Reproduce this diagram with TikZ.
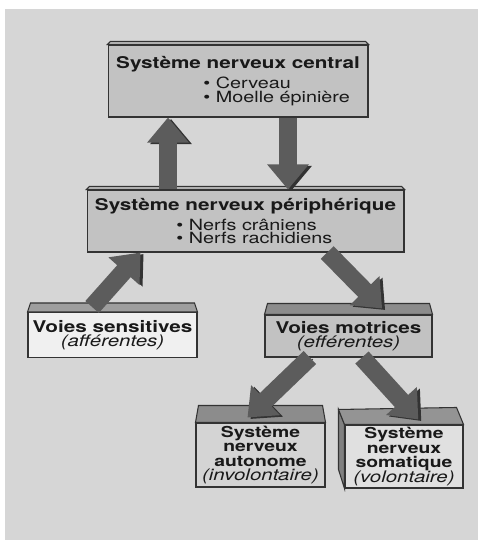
\documentclass[tikz,border=0pt]{standalone}
\usepackage{fontspec}
\setmainfont{TeX Gyre Heros}[FakeStretch=1.28]
\usetikzlibrary{arrows.meta,calc}
\definecolor{bgcol}{gray}{0.84}
\definecolor{boxgray}{gray}{0.76}
\definecolor{boxlight}{gray}{0.94}
\definecolor{topgray}{gray}{0.55}
\definecolor{arrowgray}{gray}{0.36}
\definecolor{arrowdark}{gray}{0.2}
\newcommand{\topface}[3]{%
  \filldraw[fill=#3, draw=black!80, line width=0.6pt] (#1.north west) -- ++(3,-#2) -- ($(#1.north east)+(-3,-#2)$) -- (#1.north east) -- cycle;}
\newcommand{\btxt}{\fontsize{9.2}{8.3}\selectfont\bfseries}
\newcommand{\bsmall}{\fontsize{8.6}{8.3}\selectfont\bfseries}
\newcommand{\itxt}{\fontsize{9.1}{8.3}\selectfont\mdseries\itshape}
\newcommand{\puces}[2]{\vtop{\fontsize{8.8}{7.7}\selectfont\mdseries\lineskiplimit=-10pt\hbox{• #1}\hbox{• #2}}}
\begin{document}
\begin{tikzpicture}[x=0.02cm, y=-0.02cm,
  box/.style={rectangle, draw=black!80, line width=0.6pt, inner sep=0pt, align=center, text=black!90,
    font={\fontsize{9}{8.3}\selectfont\lineskiplimit=-10pt}},
  bigarrow/.style={draw=arrowgray, line width=0.36cm, -{Triangle[width=0.8cm,length=0.5cm]},
    preaction={draw=arrowdark, transform canvas={shift={(0.06cm,-0.03cm)}}}},
]
    \useasboundingbox (0,0) rectangle (478,540);
    \fill[bgcol] (5,9) rectangle (478,540);

    % Nodes
    \node (central) [box, fill=boxgray, minimum width=5.2cm, minimum height=1.44cm] at (238,81)
      {\btxt Système nerveux central\\[3pt]
       \hspace*{44pt}\puces{Cerveau}{Moelle épinière}};
    \node (periph) [box, fill=boxgray, minimum width=6.34cm, minimum height=1.24cm] at (245.5,221)
      {\btxt Système nerveux périphérique\\[3pt]
       \hspace*{10pt}\puces{Nerfs crâniens}{Nerfs rachidiens}};
    \node (sens) [box, fill=boxlight, minimum width=3.38cm, minimum height=0.9cm] at (112.5,335)
      {\btxt Voies sensitives\\ \itxt (afférentes)};
    \node (motr) [box, fill=boxgray, minimum width=3.34cm, minimum height=0.84cm] at (348.5,336)
      {\btxt Voies motrices\\ \itxt (efférentes)};
    \node (auton) [box, fill=black!17, minimum width=2.58cm, minimum height=1.28cm] at (260.5,455)
      {\bsmall Système\\ \bsmall nerveux\\ \bsmall autonome\\ \itxt (involontaire)};
    \node (soma) [box, fill=black!12, minimum width=2.36cm, minimum height=1.26cm] at (404,456.5)
      {\bsmall Système\\ \bsmall nerveux\\ \bsmall somatique\\ \itxt (volontaire)};

    % Box tops
    \topface{central}{3}{boxgray}
    \topface{periph}{3}{boxgray}
    \topface{sens}{9}{black!38}
    \topface{motr}{11}{topgray}
    \topface{auton}{17}{topgray}
    \filldraw[fill=black!50, draw=black!80, line width=0.6pt] (soma.north west) -- ++(-6,-15) -- ++(0,60) -- (soma.south west) -- cycle;
    \filldraw[fill=black!42, draw=black!80, line width=0.6pt] (soma.north west) -- ++(-6,-15) -- ($(soma.north east)+(-7,-17)$) -- (soma.north east) -- cycle;

    % Edges
    \coordinate (upx) at (168,0);
    \coordinate (downx) at (288,0);
    \draw[bigarrow] (periph.north -| upx) -- (central.south -| upx);
    \draw[bigarrow] (central.south -| downx) -- (periph.north -| downx);
    \draw[bigarrow] ($(sens.north west)!0.38!(sens.north east)+(0,-5)$) -- ($(periph.south west)!0.17!(periph.south east)$);
    \draw[bigarrow] ($(periph.south west)!0.757!(periph.south east)$) -- ($(motr.north west)!0.7!(motr.north east)+(0,-6)$);
    \draw[bigarrow] ($(motr.south west)!0.27!(motr.south east)$) -- ($(auton.north west)!0.4!(auton.north east)+(0,-5)$);
    \draw[bigarrow] ($(motr.south west)!0.58!(motr.south east)$) -- ($(soma.north west)!0.62!(soma.north east)+(0,-5)$);

\end{tikzpicture}
\end{document}
